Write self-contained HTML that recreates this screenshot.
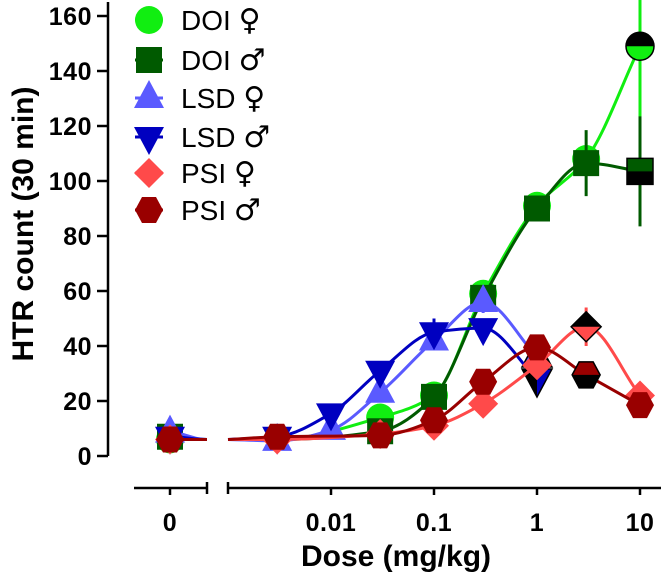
<!DOCTYPE html>
<html><head><meta charset="utf-8"><style>
html,body{margin:0;padding:0;background:#fff;}
svg{display:block;font-family:"Liberation Sans",Arial,sans-serif;}
</style></head><body>
<svg id="chart" width="661" height="582" viewBox="0 0 661 582">
<defs id="defs"></defs>
<g id="axes"></g>
<g id="plot"></g>
<g id="legend"></g>
</svg>
<script>
const doses = [0, 0.003, 0.01, 0.03, 0.1, 0.3, 1, 3, 10];
const doiF = [6, null, null, 14, 22, 59, 91, 108, 149];
const doiM = [7, null, null, 9, 21.5, 57.5, 90, 106.5, 103.5];
const lsdF = [8.5, 5.5, 9.5, 23, 42, 56, 36, null, null];
const lsdM = [7, 7, 15.5, 31, 45, 46.5, 28, null, null];
const psiF = [6, 6, null, 8, 11, 19, 33, 47, 22];
const psiM = [6, 7, null, 7.5, 13, 27, 39.5, 29.5, 18.5];
const doiFErr = [0, 0, 0, 0, 0, 0, 0, 0, 28];
const doiMErr = [0, 0, 0, 0, 0, 0, 0, 12, 20];
const lsdFErr = [0, 0, 0, 0, 0, 4, 0, 0, 0];
const lsdMErr = [0, 0, 0, 0, 5, 0, 0, 0, 0];
const psiFErr = [0, 0, 0, 0, 0, 0, 0, 7, 0];
const yTicks = [0, 20, 40, 60, 80, 100, 120, 140, 160];
const xTickDoses = [0, 0.01, 0.1, 1, 10];
const xTickLabels = ["0", "0.01", "0.1", "1", "10"];

const NS = "http://www.w3.org/2000/svg";
function xs(d){ return d === 0 ? 170 : 537 + 103 * Math.log10(d); }
function ys(v){ return 456 - 2.75 * v; }
function mk(tag, attrs, parent){
  const e = document.createElementNS(NS, tag);
  for (const k in attrs) e.setAttribute(k, attrs[k]);
  parent.appendChild(e);
  return e;
}
const axes = document.getElementById('axes');
const plot = document.getElementById('plot');
const legend = document.getElementById('legend');
const defs = document.getElementById('defs');

// Y axis
let yl = mk('line', {x1:108, y1:2, x2:108, y2:ys(0), stroke:'#000', 'stroke-width':2.5}, axes);


yTicks.forEach(t => {
  const tk = mk('line', {x1:97, y1:ys(t), x2:108, y2:ys(t), stroke:'#000', 'stroke-width':2.5}, axes);
  
  
  const tx = mk('text', {x:92, y:ys(t)+9, 'text-anchor':'end', 'font-size':25, 'font-weight':'bold', 'letter-spacing':'0.5'}, axes);
  tx.textContent = t;
  
  
});
const yt = mk('text', {x:0, y:0, 'text-anchor':'middle', 'font-size':30, 'font-weight':'bold', transform:'translate(33,224) rotate(-90)'}, axes);
yt.textContent = 'HTR count (30 min)';



// X axis (broken)
const AX = 488;
[[134, 207], [228, 661]].forEach(seg => {
  const l = mk('line', {x1:seg[0], y1:AX, x2:seg[1], y2:AX, stroke:'#000', 'stroke-width':2.5}, axes);
  
  
});
[207, 228].forEach(x => {
  const c = mk('line', {x1:x, y1:AX-6, x2:x, y2:AX+6, stroke:'#000', 'stroke-width':2.5}, axes);
  
  
});
xTickDoses.forEach((d, i) => {
  const tk = mk('line', {x1:xs(d), y1:AX, x2:xs(d), y2:AX+7, stroke:'#000', 'stroke-width':2.5}, axes);
  
  
  const tx = mk('text', {x:xs(d), y:531, 'text-anchor':'middle', 'font-size':25, 'font-weight':'bold', 'letter-spacing':'0.5'}, axes);
  tx.textContent = xTickLabels[i];
  
  
});
const xt = mk('text', {x:396, y:566, 'text-anchor':'middle', 'font-size':30, 'font-weight':'bold'}, axes);
xt.textContent = 'Dose (mg/kg)';



const series = [
  {name:'doi-female', label:'DOI', sym:'♀', color:'#11ee11', vals:doiF, err:doiFErr, shape:'circle', split:{8:'top'}},
  {name:'doi-male', label:'DOI', sym:'♂', color:'#005a00', vals:doiM, err:doiMErr, shape:'square', split:{8:'bottom'}},
  {name:'lsd-female', label:'LSD', sym:'♀', color:'#5a5aff', vals:lsdF, err:lsdFErr, shape:'tri', split:{6:'right'}},
  {name:'lsd-male', label:'LSD', sym:'♂', color:'#0000c0', vals:lsdM, err:lsdMErr, shape:'itri', split:{6:'left'}},
  {name:'psi-female', label:'PSI', sym:'♀', color:'#ff4a4a', vals:psiF, err:psiFErr, shape:'diamond', split:{7:'top'}},
  {name:'psi-male', label:'PSI', sym:'♂', color:'#990000', vals:psiM, err:null, shape:'hex', split:{7:'bottom'}}
];

function shapePath(shape, x, y){
  const s = 13;
  switch(shape){
    case 'square': return `M${x-s},${y-s}H${x+s}V${y+s}H${x-s}Z`;
    case 'tri': return `M${x},${y-18}L${x+15},${y+10}L${x-15},${y+10}Z`;
    case 'itri': return `M${x},${y+18}L${x+15},${y-10}L${x-15},${y-10}Z`;
    case 'diamond': return `M${x},${y-15}L${x+15},${y}L${x},${y+15}L${x-15},${y}Z`;
    case 'hex': return `M${x-14},${y}L${x-7},${y-13}L${x+7},${y-13}L${x+14},${y}L${x+7},${y+13}L${x-7},${y+13}Z`;
    default: return `M${x-14},${y}A14,14 0 1,0 ${x+14},${y}A14,14 0 1,0 ${x-14},${y}Z`;
  }
}
// monotone cubic (Fritsch-Carlson) through pixel points
function monoPath(pts){
  const n = pts.length;
  const dx = [], m = [], t = [];
  for (let i = 0; i < n-1; i++){ dx.push(pts[i+1][0]-pts[i][0]); m.push((pts[i+1][1]-pts[i][1])/dx[i]); }
  t[0] = m[0]; t[n-1] = m[n-2];
  for (let i = 1; i < n-1; i++){
    if (m[i-1]*m[i] <= 0) t[i] = 0;
    else { const w1 = 2*dx[i]+dx[i-1], w2 = dx[i]+2*dx[i-1]; t[i] = (w1+w2)/(w1/m[i-1]+w2/m[i]); }
  }
  let d = `M${pts[0][0]},${pts[0][1]}`;
  for (let i = 0; i < n-1; i++){
    const h = dx[i]/3;
    d += ` C${pts[i][0]+h},${pts[i][1]+t[i]*h} ${pts[i+1][0]-h},${pts[i+1][1]-t[i+1]*h} ${pts[i+1][0]},${pts[i+1][1]}`;
  }
  return d;
}

let clipId = 0;
series.forEach(s => {
  const g = mk('g', {}, plot);
  
  
  const pts = [];
  doses.forEach((d, i) => { if (d > 0 && s.vals[i] !== null) pts.push([xs(d), ys(s.vals[i])]); });
  const base = ys(Math.min(s.vals[0], 6));
  if (pts[0][0] > 285) pts.unshift([277, base]);
  pts.unshift([228, base]);
  const curve = mk('path', {d:monoPath(pts), fill:'none', stroke:s.color, 'stroke-width':3}, g);
  
  
  const zy = ys(s.vals[0]);
  const stub = mk('path', {d:`M${xs(0)},${zy} C185,${zy} 192,${base} 207,${base}`, fill:'none', stroke:s.color, 'stroke-width':3}, g);
  
  
  doses.forEach((d, i) => {
    if (!s.err || !s.err[i] || s.vals[i] === null) return;
    const e = mk('line', {x1:xs(d), x2:xs(d), y1:ys(s.vals[i]-s.err[i]), y2:ys(s.vals[i]+s.err[i]), stroke:s.color, 'stroke-width':3}, g);
    
    
  });
  doses.forEach((d, i) => {
    if (s.vals[i] === null) return;
    const x = xs(d), y = ys(s.vals[i]);
    const sp = s.split[i];
    const m = mk('path', {d:shapePath(s.shape, x, y), fill:s.color, stroke: sp ? '#000' : 'none', 'stroke-width':1.5}, g);
    
    
    if (sp){
      const id = 'clip' + (clipId++);
      const cp = mk('clipPath', {id:id}, defs);
      let r;
      if (sp === 'top') r = {x:x-20, y:y-20, width:40, height:20};
      else if (sp === 'bottom') r = {x:x-20, y:y, width:40, height:20};
      else if (sp === 'left') r = {x:x-20, y:y-20, width:20, height:40};
      else r = {x:x, y:y-20, width:20, height:40};
      mk('rect', r, cp);
      const h = mk('path', {d:shapePath(s.shape, x, y), fill:'#000', 'clip-path':`url(#${id})`}, g);
      
      
    }
  });
});

const legY = [20, 60, 98, 137, 173, 210];
series.forEach((s, i) => {
  const g = mk('g', {}, legend);
  
  
  const y = legY[i];
  mk('line', {x1:135, x2:163, y1:y, y2:y, stroke:s.color, 'stroke-width':3}, g);
  mk('path', {d:shapePath(s.shape, 149, y), fill:s.color}, g);
  const t = mk('text', {x:181, y:y+10, 'font-size':28}, g);
  t.textContent = s.label + ' ';
  
  
  const sy = mk('tspan', {'font-family':'"DejaVu Sans", sans-serif', 'font-size':30}, t);
  sy.textContent = s.sym;
});
</script>
</body></html>
